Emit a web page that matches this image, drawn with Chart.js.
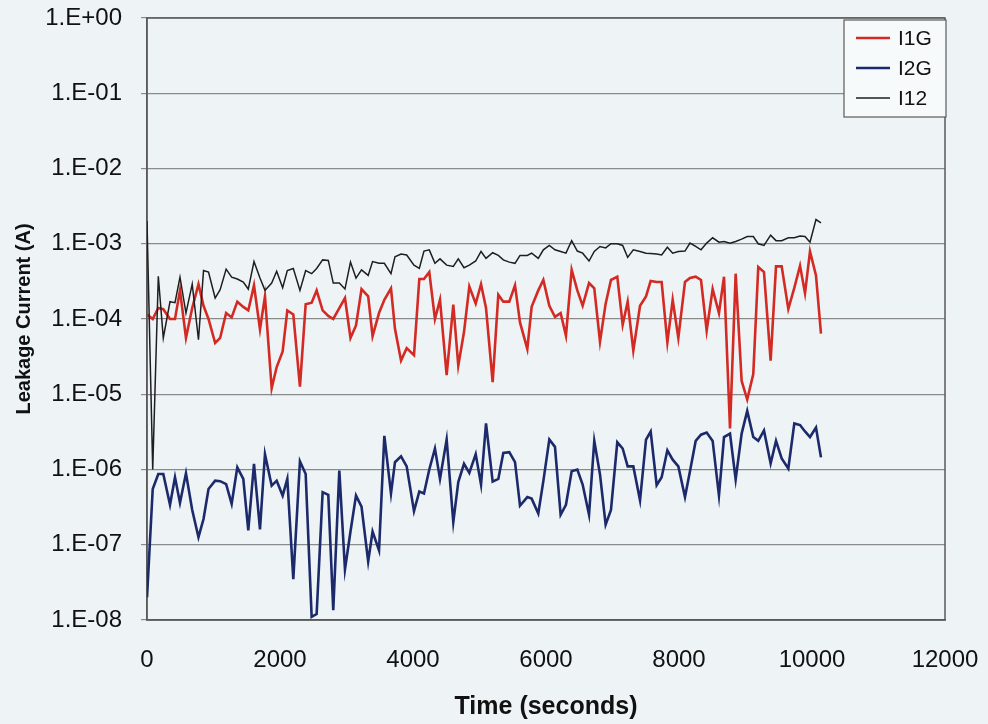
<!DOCTYPE html>
<html>
<head>
<meta charset="utf-8">
<script src="https://cdn.jsdelivr.net/npm/chart.js@4/dist/chart.umd.min.js"></script>
<style>
  html, body { margin: 0; padding: 0; background: #eef4f6; }
  #wrap { width: 988px; height: 724px; }
</style>
</head>
<body>
<div id="wrap"><canvas id="leakChart" width="988" height="724"></canvas></div>
<script>
// sample times (s)
const times = [0, 86, 170, 245, 346, 421, 496, 586, 680, 774, 850, 925, 1025, 1100, 1190, 1273, 1358, 1448, 1523, 1609,
  1699, 1774, 1875, 1950, 2040, 2110, 2200, 2300, 2386, 2476, 2551, 2641, 2726, 2801, 2892, 2977, 3060, 3143, 3226, 3326,
  3392, 3489, 3569, 3669, 3729, 3820, 3905, 4015, 4095, 4165, 4245, 4330, 4406, 4506, 4606, 4681, 4767, 4847, 4943, 5023,
  5098, 5198, 5283, 5358, 5448, 5534, 5609, 5719, 5784, 5884, 5960, 6050, 6135, 6220, 6300, 6386, 6471, 6551, 6647, 6726,
  6812, 6897, 6977, 7072, 7153, 7228, 7313, 7414, 7504, 7574, 7664, 7739, 7825, 7905, 7990, 8090, 8165, 8251, 8331, 8416,
  8506, 8601, 8677, 8767, 8852, 8942, 9026, 9117, 9192, 9278, 9378, 9459, 9544, 9644, 9734, 9820, 9895, 9970, 10060, 10135];

// leakage currents (A)
const i1g = [1.15e-4, 1e-4, 1.4e-4, 1.35e-4, 1e-4, 1e-4, 2.4e-4, 5.6e-5, 1.4e-4, 2.9e-4, 1.5e-4, 1e-4, 4.8e-5, 5.6e-5, 1.2e-4, 1.05e-4, 1.7e-4, 1.45e-4, 1.3e-4, 2.8e-4,
  7.3e-5, 2e-4, 1.2e-5, 2.3e-5, 3.7e-5, 1.3e-4, 1.15e-4, 1.26e-5, 1.57e-4, 1.65e-4, 2.4e-4, 1.3e-4, 1.1e-4, 1e-4, 1.4e-4, 1.9e-4, 5.6e-5, 8.2e-5, 2.5e-4, 2e-4,
  5.9e-5, 1.2e-4, 1.8e-4, 2.55e-4, 7.4e-5, 2.8e-5, 4.1e-5, 3.3e-5, 3.4e-4, 3.4e-4, 4.2e-4, 1e-4, 1.8e-4, 1.8e-5, 1.55e-4, 2.4e-5, 6.7e-5, 2.7e-4, 1.6e-4, 2.9e-4,
  1.4e-4, 1.45e-5, 2.1e-4, 1.7e-4, 1.7e-4, 2.8e-4, 9e-5, 4e-5, 1.45e-4, 2.4e-4, 3.3e-4, 1.5e-4, 1.07e-4, 1.2e-4, 6e-5, 4.5e-4, 2.4e-4, 1.5e-4, 3e-4, 2.55e-4,
  5e-5, 1.6e-4, 3.3e-4, 3.65e-4, 8.4e-5, 1.7e-4, 3.8e-5, 1.5e-4, 2e-4, 3.2e-4, 3.1e-4, 3.1e-4, 4.9e-5, 1.8e-4, 5.6e-5, 3.1e-4, 3.5e-4, 3.65e-4, 3.3e-4, 7e-5,
  2.5e-4, 1.2e-4, 3.65e-4, 3.5e-6, 4e-4, 1.5e-5, 8.5e-6, 1.85e-5, 4.9e-4, 4.2e-4, 2.8e-5, 5e-4, 5e-4, 1.36e-4, 2.6e-4, 5.1e-4, 2.2e-4, 7.9e-4, 3.8e-4, 6.4e-5];

const i2g = [2e-8, 5.5e-7, 8.7e-7, 8.7e-7, 3.4e-7, 7.9e-7, 3.6e-7, 8.9e-7, 2.9e-7, 1.26e-7, 2.2e-7, 5.5e-7, 7.1e-7, 7e-7, 6.4e-7, 3.5e-7, 1.07e-6, 7.5e-7, 1.55e-7, 1.19e-6,
  1.6e-7, 1.6e-6, 6.1e-7, 7.1e-7, 4.5e-7, 7.5e-7, 3.5e-8, 1.28e-6, 8.7e-7, 1.1e-8, 1.2e-8, 5e-7, 4.6e-7, 1.35e-8, 9.7e-7, 4.7e-8, 1.5e-7, 4.5e-7, 3.2e-7, 6e-8,
  1.5e-7, 8.4e-8, 2.8e-6, 4.8e-7, 1.25e-6, 1.5e-6, 1.1e-6, 2.8e-7, 5.1e-7, 4.8e-7, 1e-6, 1.9e-6, 7.5e-7, 2.5e-6, 2e-7, 6.8e-7, 1.19e-6, 9e-7, 1.6e-6, 6.3e-7,
  4.1e-6, 6.9e-7, 7.5e-7, 1.66e-6, 1.7e-6, 1.25e-6, 3.3e-7, 4.3e-7, 4.1e-7, 2.6e-7, 7e-7, 2.5e-6, 2e-6, 2.5e-7, 3.4e-7, 9.5e-7, 1e-6, 6.3e-7, 2.5e-7, 2.4e-6,
  8.6e-7, 1.85e-7, 2.9e-7, 2.3e-6, 1.9e-6, 1.1e-6, 1.1e-6, 3.9e-7, 2.5e-6, 3.2e-6, 6.2e-7, 7.9e-7, 1.8e-6, 1.35e-6, 1.1e-6, 4.3e-7, 9.5e-7, 2.4e-6, 2.9e-6, 3.1e-6,
  2.4e-6, 4.5e-7, 2.7e-6, 3e-6, 7.4e-7, 3e-6, 6e-6, 2.7e-6, 2.4e-6, 3.3e-6, 1.2e-6, 2.4e-6, 1.4e-6, 1.03e-6, 4.1e-6, 3.9e-6, 3.2e-6, 2.7e-6, 3.6e-6, 1.45e-6];

const i12 = [2e-3, 1e-6, 3.7e-4, 5.6e-5, 1.7e-4, 1.65e-4, 3.6e-4, 1.2e-4, 2.9e-4, 5.3e-5, 4.4e-4, 4.2e-4, 1.9e-4, 2.45e-4, 4.6e-4, 3.6e-4, 3.4e-4, 3.1e-4, 2.5e-4, 5.8e-4,
  3.5e-4, 2.4e-4, 3e-4, 4.3e-4, 2.6e-4, 4.4e-4, 4.7e-4, 2.4e-4, 4.4e-4, 4e-4, 4.7e-4, 6.1e-4, 6e-4, 3e-4, 3e-4, 2.5e-4, 5.7e-4, 3.5e-4, 4.5e-4, 3.8e-4,
  5.8e-4, 5.5e-4, 5.5e-4, 4e-4, 6.7e-4, 7.3e-4, 7.1e-4, 5.2e-4, 4.7e-4, 8e-4, 8.3e-4, 5.5e-4, 6.3e-4, 5.2e-4, 5e-4, 6.3e-4, 4.8e-4, 5.2e-4, 5.9e-4, 7.9e-4,
  6.4e-4, 7.6e-4, 7e-4, 6.1e-4, 5.7e-4, 5.5e-4, 7e-4, 7e-4, 7.5e-4, 6.4e-4, 8.3e-4, 9.5e-4, 8.3e-4, 7.9e-4, 7.5e-4, 1.1e-3, 8e-4, 7.5e-4, 5.9e-4, 7.9e-4,
  9.2e-4, 8.8e-4, 1e-3, 1e-3, 9.5e-4, 6.6e-4, 8.3e-4, 7.9e-4, 7.5e-4, 7.4e-4, 7.3e-4, 7.1e-4, 9e-4, 7.5e-4, 7.9e-4, 8e-4, 1.02e-3, 9.2e-4, 8.3e-4, 1.02e-3,
  1.2e-3, 1.05e-3, 1.07e-3, 1.02e-3, 1.07e-3, 1.15e-3, 1.25e-3, 1.25e-3, 1e-3, 9.5e-4, 1.3e-3, 1.1e-3, 1.1e-3, 1.2e-3, 1.2e-3, 1.27e-3, 1.25e-3, 1.05e-3, 2.1e-3, 1.9e-3];

const seriesNames = ['I1G', 'I2G', 'I12'];
const xTicks = [0, 2000, 4000, 6000, 8000, 10000, 12000];
const yTicks = [1e-8, 1e-7, 1e-6, 1e-5, 1e-4, 1e-3, 1e-2, 1e-1, 1];

const toPoints = vals => times.map((t, i) => ({ x: t, y: vals[i] }));

function expLabel(v) {
  const e = Math.round(Math.log10(v));
  return '1.E' + (e < 0 ? '-' : '+') + String(Math.abs(e)).padStart(2, '0');
}

const FONT = '"Liberation Sans", Arial, sans-serif';

// page background + plot frame
const backdrop = {
  id: 'backdrop',
  beforeDraw(chart) {
    const ctx = chart.ctx;
    ctx.save();
    ctx.fillStyle = '#eef4f6';
    ctx.fillRect(0, 0, chart.width, chart.height);
    ctx.restore();
  },
  beforeDatasetsDraw(chart) {
    const { ctx, chartArea: a } = chart;
    ctx.save();
    ctx.strokeStyle = '#5a5a5a';
    ctx.lineWidth = 1.5;
    ctx.strokeRect(a.left, a.top, a.right - a.left, a.bottom - a.top);
    ctx.restore();
  }
};

// boxed legend sitting in the top right corner of the plot
const cornerLegend = {
  id: 'cornerLegend',
  afterDraw(chart) {
    const { ctx, chartArea: a } = chart;
    const w = 102, h = 97;
    const x = a.right + 1 - w, y = a.top + 2;
    ctx.save();
    ctx.fillStyle = '#f7fafb';
    ctx.fillRect(x, y, w, h);
    ctx.strokeStyle = '#5a5a5a';
    ctx.lineWidth = 1.2;
    ctx.strokeRect(x, y, w, h);
    ctx.font = '21px ' + FONT;
    ctx.textBaseline = 'middle';
    chart.data.datasets.forEach((ds, i) => {
      const ly = y + 18 + i * 30;
      ctx.strokeStyle = ds.borderColor;
      ctx.lineWidth = ds.borderWidth;
      ctx.beginPath();
      ctx.moveTo(x + 12, ly);
      ctx.lineTo(x + 46, ly);
      ctx.stroke();
      ctx.fillStyle = '#111';
      ctx.fillText(ds.label, x + 54, ly + 1);
    });
    ctx.restore();
  }
};

const ctx = document.getElementById('leakChart').getContext('2d');
new Chart(ctx, {
  type: 'line',
  data: {
    datasets: [
      { label: seriesNames[0], data: toPoints(i1g), borderColor: '#d42a24', borderWidth: 2.6, order: 3 },
      { label: seriesNames[1], data: toPoints(i2g), borderColor: '#1c2a6b', borderWidth: 2.6, order: 2 },
      { label: seriesNames[2], data: toPoints(i12), borderColor: '#1e1e1e', borderWidth: 1.5, order: 1 }
    ]
  },
  options: {
    responsive: false,
    animation: false,
    devicePixelRatio: 1,
    elements: {
      point: { radius: 0 },
      line: { tension: 0, fill: false }
    },
    layout: { padding: { left: 0, top: 18, right: 43, bottom: 0 } },
    plugins: {
      legend: { display: false },
      tooltip: { enabled: false }
    },
    scales: {
      x: {
        type: 'linear',
        min: 0,
        max: 12000,
        afterBuildTicks: scale => { scale.ticks = xTicks.map(v => ({ value: v })); },
        afterFit: scale => {
          scale.height = 104;
          scale.paddingLeft = 0;
          scale.paddingRight = 0;
        },
        grid: { drawOnChartArea: false, drawTicks: false, color: '#5a5a5a' },
        border: { display: true, color: '#5a5a5a', width: 1.5 },
        ticks: {
          color: '#111',
          padding: 26,
          maxRotation: 0,
          callback: v => String(v),
          font: { family: FONT, size: 24 }
        },
        title: {
          display: true,
          text: 'Time (seconds)',
          color: '#111',
          padding: { top: 8, bottom: 2 },
          font: { family: FONT, size: 25, weight: 'bold' }
        }
      },
      y: {
        type: 'logarithmic',
        min: 1e-8,
        max: 1,
        afterBuildTicks: scale => { scale.ticks = yTicks.map(v => ({ value: v })); },
        afterFit: scale => {
          scale.width = 147;
          scale.paddingTop = 0;
          scale.paddingBottom = 0;
        },
        grid: { color: '#8a8a8a', lineWidth: 1.2, tickLength: 6, drawTicks: true },
        border: { display: true, color: '#5a5a5a', width: 1.5 },
        ticks: {
          color: '#111',
          padding: 19,
          callback: v => expLabel(v),
          font: { family: FONT, size: 24 }
        },
        title: {
          display: true,
          text: 'Leakage Current (A)',
          color: '#111',
          padding: { top: 12, bottom: 0 },
          font: { family: FONT, size: 20, weight: 'bold' }
        }
      }
    }
  },
  plugins: [backdrop, cornerLegend]
});
</script>
</body>
</html>
